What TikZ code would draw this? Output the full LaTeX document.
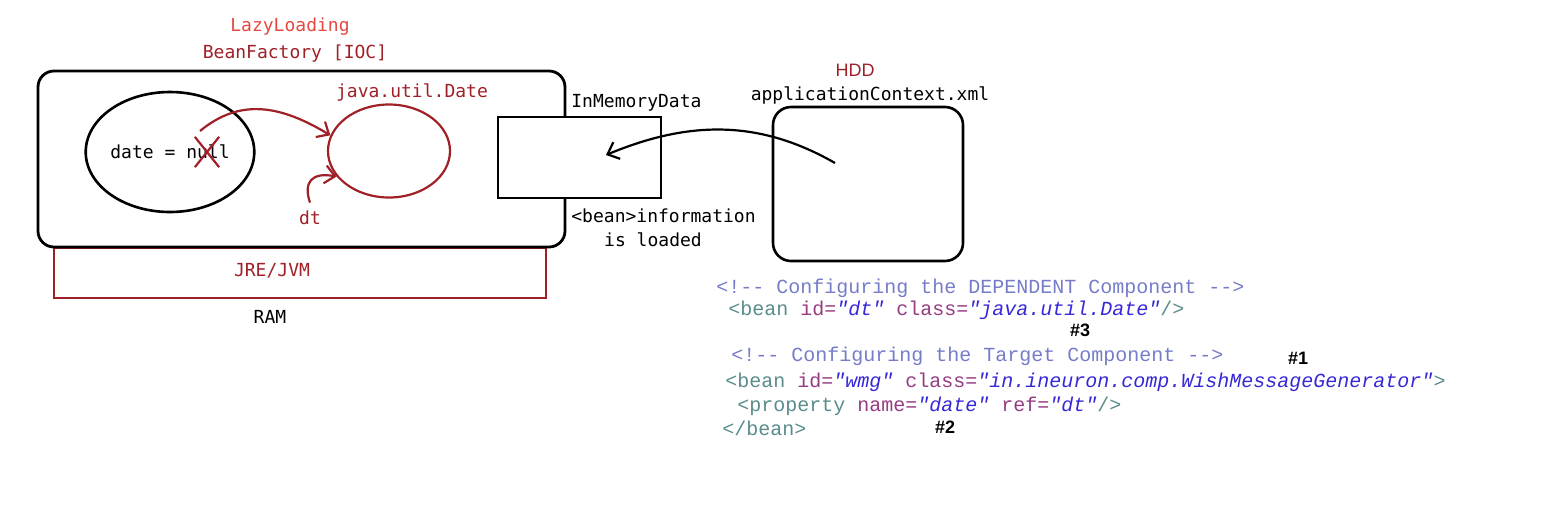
\documentclass[tikz,border=0pt]{standalone}
\usepackage{fontspec}
\usetikzlibrary{arrows.meta,shapes.geometric,shapes.misc}
\newfontfamily\labfont{DejaVu Sans Mono}
\newfontfamily\codefont{Liberation Mono}
\newfontfamily\hashfont{Liberation Sans}
\definecolor{lightred}{RGB}{228,72,64}
\definecolor{darkred}{RGB}{160,32,40}
\definecolor{cmtblue}{RGB}{118,124,200}
\definecolor{tagteal}{RGB}{90,140,140}
\definecolor{attrpurple}{RGB}{150,60,130}
\definecolor{valblue}{RGB}{55,40,215}
\newcommand{\tg}[1]{\textcolor{tagteal}{#1}}
\newcommand{\at}[1]{\textcolor{attrpurple}{#1}}
\newcommand{\vl}[1]{\textcolor{valblue}{\itshape #1}}
\tikzset{
        lbl/.style={font=\labfont\fontsize{9}{10}\selectfont},
        code/.style={font=\codefont\fontsize{10}{11}\selectfont, anchor=west},
        hash/.style={font=\hashfont\bfseries\fontsize{9}{10}\selectfont},
        arr/.style={-{Straight Barb[length=5pt,width=9pt]}, line width=1.1pt}
}
\begin{document}
\begin{tikzpicture}[x=0.5pt,y=-0.5pt]
        \tikzstyle{every node}+=[inner sep=0pt]
        \useasboundingbox (0,0) rectangle (1542,526);
        \node [draw=darkred, line width=1pt, minimum width=246pt, minimum height=25pt, anchor=north] (jvm) at (300,247) {};
        \node [draw, line width=1.4pt, rounded corners=8pt, minimum width=263.5pt, minimum height=88pt] (beanfactory) at (301.5,159) {};
        \node [lbl, text=darkred] (jvmlbl) at (272,271) {JRE/JVM};
        \node [lbl] (ramlbl) at (270,317) {RAM};
        \node [lbl, text=lightred] (lazylbl) at (290,27) {LazyLoading};
        \node [lbl, text=darkred] (factorylbl) at (295,54) {BeanFactory [IOC]};
        \node [lbl, ellipse, draw, line width=1.3pt, minimum width=82pt, minimum height=60pt] (dateobj) at (170,152) {date = null};
        \node [cross out, draw=darkred, line width=1.1pt, minimum width=11pt, minimum height=14pt] (nullx) at (207,152) {};
        \node [ellipse, draw=darkred, line width=1.1pt, minimum width=61pt, minimum height=46.5pt] (dateinst) at (389,151) {};
        \node [lbl, text=darkred] (datelbl) at (412,92) {java.util.Date};
        \node [lbl, text=darkred] (dtlbl) at (310,218) {dt};
        \coordinate (nullsrc) at (200,131);
        \draw [arr, darkred] (nullsrc) .. controls (240,98) and (280,105) .. (dateinst.165);
        \draw [arr, darkred] ([yshift=4pt]dtlbl.north) .. controls (303,182) and (312,172) .. (dateinst.206);
        \node [draw, fill=white, line width=1.2pt, minimum width=81.5pt, minimum height=40.5pt] (inmem) at (579.5,157.5) {};
        \node [lbl, anchor=west] (inmemlbl) at (571,103) {InMemoryData};
        \node [lbl, anchor=west] (loadlbl) at (571,216) {<bean>information};
        \node [lbl] (loadlbl2) at (653,240) {is loaded};
        \node [draw, line width=1.3pt, rounded corners=9pt, minimum width=95pt, minimum height=77pt] (xmlfile) at (868,184) {};
        \node [font=\hashfont\fontsize{9}{10}\selectfont, text=darkred] (hddlbl) at (855,70) {HDD};
        \node [lbl] (xmllbl) at (870,95) {applicationContext.xml};
        \coordinate (xmlsrc) at (835,163);
        \coordinate (inmemtip) at (606,155);
        \draw [arr] (xmlsrc) .. controls (760,120) and (690,120) .. (inmemtip);
        \node [code, text=cmtblue] (cmt1) at (716,288) {<!-{}- Configuring the DEPENDENT Component -{}->};
        \node [code] (dtbean) at (728,310) {\tg{<bean} \at{id=}\vl{"dt"} \at{class=}\vl{"java.util.Date"}\tg{/>}};
        \node [code, text=cmtblue] (cmt2) at (731,356) {<!-{}- Configuring the Target Component -{}->};
        \node [code] (wmgbean) at (725,382) {\tg{<bean} \at{id=}\vl{"wmg"} \at{class=}\vl{"in.ineuron.comp.WishMessageGenerator"}\tg{>}};
        \node [code] (prop) at (737,406) {\tg{<property} \at{name=}\vl{"date"} \at{ref=}\vl{"dt"}\tg{/>}};
        \node [code] (endbean) at (722,428) {\tg{</bean>}};
        \node [hash] (hash3) at (1080,330) {\#3};
        \node [hash] (hash1) at (1298,358) {\#1};
        \node [hash] (hash2) at (945,427) {\#2};
\end{tikzpicture}
\end{document}
